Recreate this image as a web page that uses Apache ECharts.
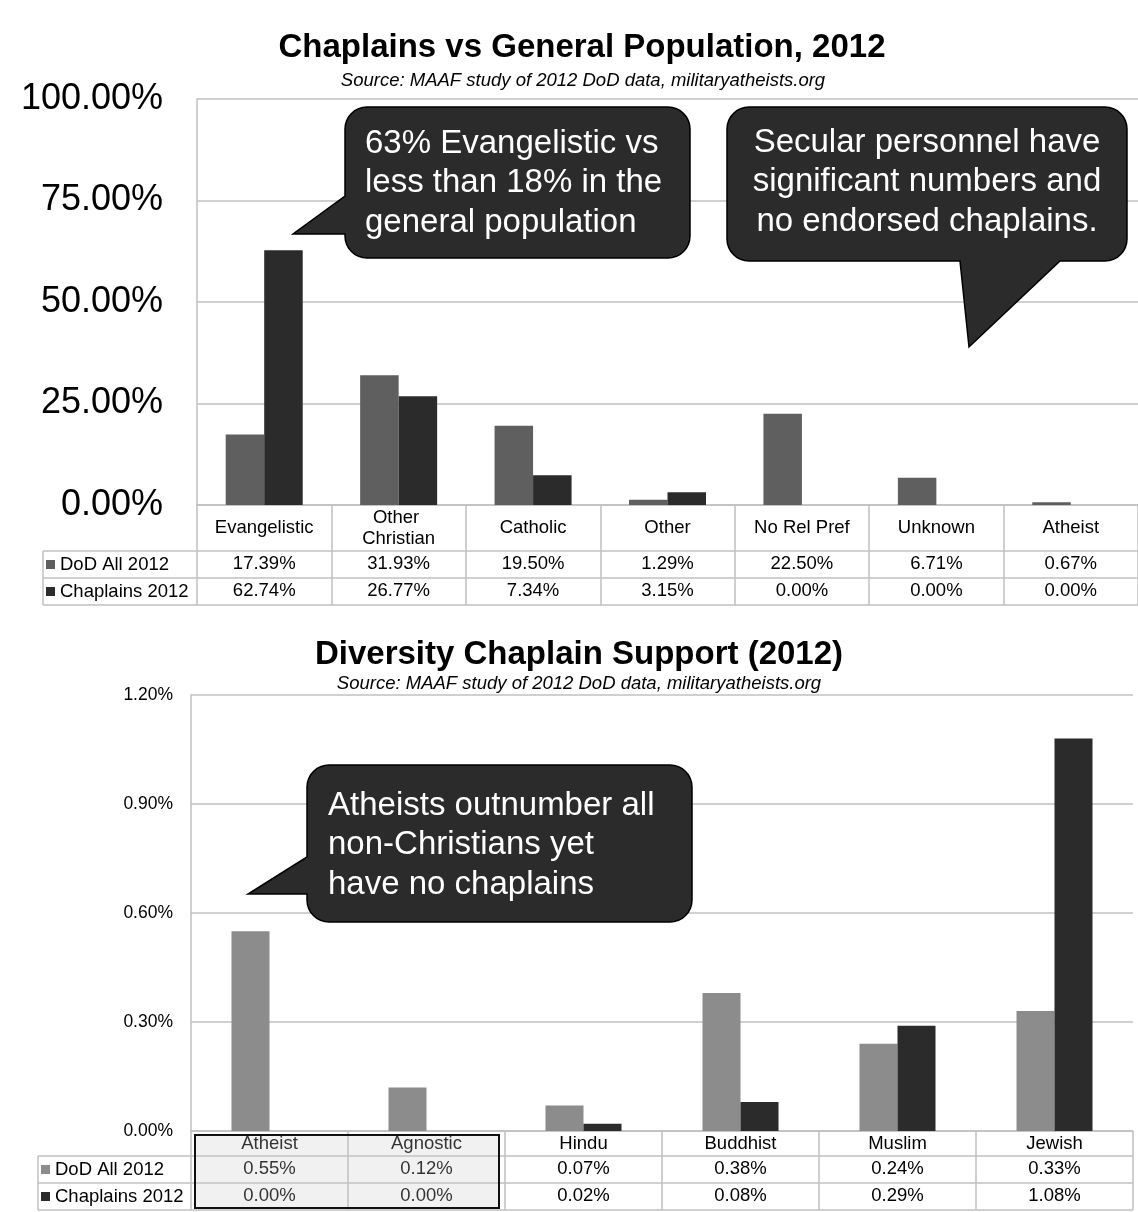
<!DOCTYPE html>
<html>
<head>
<meta charset="utf-8">
<script src="https://cdn.jsdelivr.net/npm/echarts@6/dist/echarts.min.js"></script>
<style>
html,body{margin:0;padding:0;background:#fff;}
#chart{width:1138px;height:1212px;}
</style>
</head>
<body>
<div id="chart"></div>
<script>
// ---------- data ----------
const categories1 = ['Evangelistic', 'Other Christian', 'Catholic', 'Other', 'No Rel Pref', 'Unknown', 'Atheist'];
const dod1 = [17.39, 31.93, 19.50, 1.29, 22.50, 6.71, 0.67];
const chaplains1 = [62.74, 26.77, 7.34, 3.15, 0.00, 0.00, 0.00];
const yTicks1 = [0, 25, 50, 75, 100];

const categories2 = ['Atheist', 'Agnostic', 'Hindu', 'Buddhist', 'Muslim', 'Jewish'];
const dod2 = [0.55, 0.12, 0.07, 0.38, 0.24, 0.33];
const chaplains2 = [0.00, 0.00, 0.02, 0.08, 0.29, 1.08];
const yTicks2 = [0, 0.3, 0.6, 0.9, 1.2];

const seriesNames = ['DoD All 2012', 'Chaplains 2012'];
const title1 = 'Chaplains vs General Population, 2012';
const title2 = 'Diversity Chaplain Support (2012)';
const subtitle = 'Source: MAAF study of 2012 DoD data, militaryatheists.org';
const note1 = '63% Evangelistic vs\nless than 18% in the\ngeneral population';
const note2 = 'Secular personnel have\nsignificant numbers and\nno endorsed chaplains.';
const note3 = 'Atheists outnumber all\nnon-Christians yet\nhave no chaplains';

// ---------- styling ----------
const FONT = '"Liberation Sans", Arial, Helvetica, sans-serif';
const C1_DOD = '#5f5f5f';
const C2_DOD = '#8c8c8c';
const C_CHAP = '#2b2b2b';
const GRID_C = '#c0c0c0';
const TABLE_FS = 18.5;
const pct = v => v.toFixed(2) + '%';

// layout
const G1 = {left: 197, top: 99, width: 941, height: 406};
const G2 = {left: 191, top: 695, width: 942, height: 436};
const T1 = {left: 43, rowTop: 551, rowH: 27, bottom: 605};
const T2 = {left: 38, rowTop: 1156, rowH: 27, bottom: 1210};

function bubble(x0, y0, x1, y1, r, tail) {
  const pts = [];
  const arc = (cx, cy, a0, a1) => {
    for (let i = 0; i <= 8; i++) {
      const a = a0 + (a1 - a0) * i / 8;
      pts.push([cx + r * Math.cos(a), cy + r * Math.sin(a)]);
    }
  };
  arc(x0 + r, y0 + r, Math.PI, 1.5 * Math.PI);
  arc(x1 - r, y0 + r, 1.5 * Math.PI, 2 * Math.PI);
  arc(x1 - r, y1 - r, 0, 0.5 * Math.PI);
  if (tail.side === 'bottom') pts.push([tail.b, y1], tail.tip, [tail.a, y1]);
  arc(x0 + r, y1 - r, 0.5 * Math.PI, Math.PI);
  if (tail.side === 'left') pts.push([x0, tail.b], tail.tip, [x0, tail.a]);
  return pts;
}

function txt(x, y, text, o) {
  const align = o.align || 'center';
  return {
    type: 'text', x: x, y: y, z: o.z || 50,
    style: {
      text: text, fill: o.fill || '#000',
      fontFamily: FONT, fontSize: o.size, fontWeight: o.weight || 'normal', fontStyle: o.style || 'normal',
      lineHeight: o.lh || Math.round(o.size * 1.2),
      align: align, textAlign: align, verticalAlign: 'middle', textVerticalAlign: 'middle'
    }
  };
}

function hline(x1, x2, y) {
  return {type: 'line', z: 5, shape: {x1: x1, y1: y, x2: x2, y2: y}, style: {stroke: GRID_C, lineWidth: 1.5}};
}
function vline(x, y1, y2) {
  return {type: 'line', z: 5, shape: {x1: x, y1: y1, x2: x, y2: y2}, style: {stroke: GRID_C, lineWidth: 1.5}};
}

function callout(pts, text, tx, ty, align) {
  return [
    {type: 'polygon', z: 40, shape: {points: pts}, style: {fill: '#2b2b2b', stroke: '#000', lineWidth: 1.5}},
    txt(tx, ty, text, {size: 33, fill: '#fff', lh: 39.5, align: align, z: 41})
  ];
}

const gRight1 = G1.left + G1.width;
const gRight2 = G2.left + G2.width;
const catW2 = G2.width / categories2.length;

const graphics = [
  txt(582, 48, title1, {size: 33, weight: 'bold'}),
  txt(583, 81, subtitle, {size: 18.5, style: 'italic'}),
  txt(579, 655, title2, {size: 33, weight: 'bold'}),
  txt(579, 684, subtitle, {size: 18.5, style: 'italic'}),
  // table 1 lines
  hline(T1.left, gRight1, T1.rowTop),
  hline(T1.left, gRight1, T1.rowTop + T1.rowH),
  hline(T1.left, gRight1, T1.bottom),
  vline(T1.left, T1.rowTop, T1.bottom),
  // table 2 lines
  hline(T2.left, gRight2, T2.rowTop),
  hline(T2.left, gRight2, T2.rowTop + T2.rowH),
  hline(T2.left, gRight2, T2.bottom),
  vline(T2.left, T2.rowTop, T2.bottom),
  // highlight box around Atheist / Agnostic columns
  {type: 'rect', z: 60, shape: {x: G2.left + 4, y: G2.top + G2.height + 4, width: catW2 * 2 - 10, height: T2.bottom - (G2.top + G2.height) - 6},
   style: {fill: 'rgba(200,200,200,0.25)', stroke: '#111', lineWidth: 2}}
].concat(
  callout(bubble(345, 107, 690, 258, 22, {side: 'left', a: 196, b: 234, tip: [293, 234]}), note1, 365, 183, 'left'),
  callout(bubble(727, 107, 1127, 261, 22, {side: 'bottom', a: 960, b: 1060, tip: [969, 347]}), note2, 927, 182, 'center'),
  callout(bubble(307, 765, 692, 922, 22, {side: 'left', a: 857, b: 894, tip: [248, 894]}), note3, 328, 845, 'left')
);

function valueAxis(gridIndex, data, margin) {
  return {
    type: 'category', gridIndex: gridIndex, position: 'bottom', data: data,
    axisLine: {show: false}, axisTick: {show: false}, splitLine: {show: false},
    axisLabel: {interval: 0, margin: margin, verticalAlign: 'middle', fontSize: TABLE_FS, color: '#000', fontFamily: FONT}
  };
}

const legendText = {fontSize: TABLE_FS, lineHeight: 27, color: '#000', fontFamily: FONT};

const option = {
  animation: false,
  backgroundColor: '#fff',
  grid: [
    Object.assign({outerBoundsMode: 'none', containLabel: false}, G1),
    Object.assign({outerBoundsMode: 'none', containLabel: false}, G2)
  ],
  legend: [
    {left: T1.left + 3, top: T1.rowTop, orient: 'vertical', itemGap: 0, padding: 0, itemWidth: 9, itemHeight: 9,
     icon: 'rect', selectedMode: false, textStyle: legendText,
     data: [{name: seriesNames[0], itemStyle: {color: C1_DOD}}, {name: seriesNames[1], itemStyle: {color: C_CHAP}}]},
    {left: T2.left + 3, top: T2.rowTop, orient: 'vertical', itemGap: 0, padding: 0, itemWidth: 9, itemHeight: 9,
     icon: 'rect', selectedMode: false, textStyle: legendText,
     data: [{name: seriesNames[0], itemStyle: {color: C2_DOD}}, {name: seriesNames[1], itemStyle: {color: C_CHAP}}]}
  ],
  xAxis: [
    {type: 'category', gridIndex: 0, position: 'bottom', data: categories1,
     axisLine: {show: true, lineStyle: {color: GRID_C, width: 1.5}},
     axisTick: {show: true, interval: 0, length: T1.bottom - (G1.top + G1.height), lineStyle: {color: GRID_C, width: 1.5}},
     axisLabel: {interval: 0, margin: 23, verticalAlign: 'middle', fontSize: TABLE_FS, lineHeight: 21, color: '#000',
                 fontFamily: FONT, width: 122, overflow: 'break'}},
    valueAxis(0, dod1.map(pct), 59),
    valueAxis(0, chaplains1.map(pct), 86),
    {type: 'category', gridIndex: 1, position: 'bottom', data: categories2,
     axisLine: {show: true, lineStyle: {color: GRID_C, width: 1.5}},
     axisTick: {show: true, interval: 0, length: T2.bottom - (G2.top + G2.height), lineStyle: {color: GRID_C, width: 1.5}},
     axisLabel: {interval: 0, margin: 13, verticalAlign: 'middle', fontSize: TABLE_FS, color: '#000', fontFamily: FONT}},
    valueAxis(1, dod2.map(pct), 38),
    valueAxis(1, chaplains2.map(pct), 65)
  ],
  yAxis: [
    {type: 'value', gridIndex: 0, min: yTicks1[0], max: yTicks1[yTicks1.length - 1], interval: yTicks1[1] - yTicks1[0],
     axisLine: {show: true, lineStyle: {color: GRID_C, width: 1.5}}, axisTick: {show: false},
     splitLine: {lineStyle: {color: GRID_C, width: 1.5}},
     axisLabel: {margin: 34, fontSize: 36, color: '#000', fontFamily: FONT, formatter: v => pct(v)}},
    {type: 'value', gridIndex: 1, min: yTicks2[0], max: yTicks2[yTicks2.length - 1], interval: 0.3,
     axisLine: {show: true, lineStyle: {color: GRID_C, width: 1.5}}, axisTick: {show: false},
     splitLine: {lineStyle: {color: GRID_C, width: 1.5}},
     axisLabel: {margin: 18, fontSize: 17.5, color: '#000', fontFamily: FONT, formatter: v => pct(v)}}
  ],
  series: [
    {name: seriesNames[0], type: 'bar', xAxisIndex: 0, yAxisIndex: 0, data: dod1, barWidth: 38.5, barGap: '0%',
     itemStyle: {color: C1_DOD}},
    {name: seriesNames[1], type: 'bar', xAxisIndex: 0, yAxisIndex: 0, data: chaplains1, barWidth: 38.5, barGap: '0%',
     itemStyle: {color: C_CHAP}},
    {name: seriesNames[0], type: 'bar', xAxisIndex: 3, yAxisIndex: 1, data: dod2, barWidth: 38, barGap: '0%',
     itemStyle: {color: C2_DOD}},
    {name: seriesNames[1], type: 'bar', xAxisIndex: 3, yAxisIndex: 1, data: chaplains2, barWidth: 38, barGap: '0%',
     itemStyle: {color: C_CHAP}}
  ],
  graphic: {elements: graphics}
};

const chart = echarts.init(document.getElementById('chart'), null, {renderer: 'canvas'});
chart.setOption(option);
</script>
</body>
</html>
